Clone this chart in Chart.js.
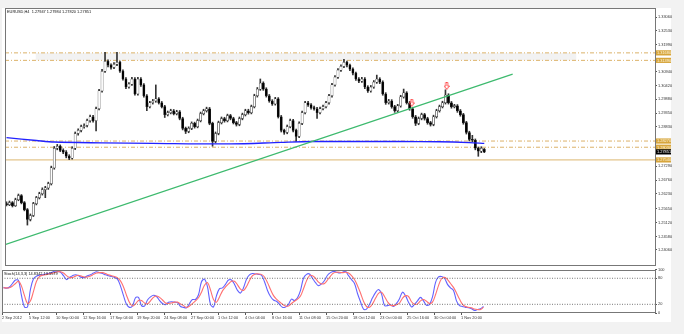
<!DOCTYPE html>
<html><head><meta charset="utf-8">
<script src="https://cdn.jsdelivr.net/npm/chart.js@4.4.1/dist/chart.umd.min.js"></script>
<style>
html,body{margin:0;padding:0;background:#f2f2f2;width:684px;height:334px;overflow:hidden;}
#paper{position:absolute;left:2px;top:8px;width:669px;height:314px;background:#fff;}
#main{position:absolute;left:0;top:0;}
#stoch{position:absolute;left:0;top:262px;}
</style></head><body>
<div id="paper"></div>
<canvas id="main" width="684" height="270"></canvas>
<canvas id="stoch" width="684" height="72"></canvas>
<script>
// ---------- DATA (EURUSD H4 candles) ----------
const opens = [1.2585,1.2581,1.2589,1.2577,1.2600,1.2616,1.2589,1.2562,1.2524,1.2539,
 1.2585,1.2608,1.2623,1.2639,1.2646,1.2662,1.2723,1.2799,1.2807,1.2791,
 1.2784,1.2768,1.2761,1.2799,1.2856,1.2868,1.2883,1.2887,1.2906,1.2921,
 1.2906,1.2952,1.3021,1.3097,1.3135,1.3120,1.3112,1.3124,1.3131,1.3097,
 1.3067,1.3036,1.3047,1.3067,1.3009,1.3067,1.3044,1.3002,1.2960,1.2975,
 1.2982,1.2990,1.2975,1.2960,1.2929,1.2937,1.2944,1.2933,1.2940,1.2914,
 1.2876,1.2864,1.2876,1.2895,1.2883,1.2906,1.2933,1.2944,1.2952,1.2895,
 1.2826,1.2856,1.2898,1.2914,1.2906,1.2925,1.2914,1.2898,1.2891,1.2914,
 1.2929,1.2944,1.2937,1.2960,1.3002,1.3028,1.3051,1.3028,1.3002,1.2982,
 1.2971,1.2990,1.2921,1.2868,1.2860,1.2883,1.2906,1.2868,1.2845,1.2895,
 1.2937,1.2975,1.2967,1.2956,1.2952,1.2937,1.2952,1.2960,1.2975,1.3002,
 1.3044,1.3074,1.3101,1.3116,1.3131,1.3120,1.3105,1.3089,1.3067,1.3059,
 1.3067,1.3036,1.3021,1.3036,1.3055,1.3067,1.3055,1.3009,1.2975,1.2982,
 1.2960,1.2944,1.2963,1.2998,1.3013,1.2975,1.2952,1.2921,1.2895,1.2914,
 1.2929,1.2914,1.2898,1.2891,1.2921,1.2944,1.2960,1.2975,1.3005,1.2975,
 1.2960,1.2963,1.2944,1.2929,1.2898,1.2860,1.2833,1.2830,1.2799,1.2788,
 1.27947];
const highs = [1.2592,1.2595,1.2593,1.2606,1.2622,1.2620,1.2593,1.2566,1.2545,1.2590,
 1.2613,1.2629,1.2646,1.2652,1.2668,1.2730,1.2806,1.2814,1.2812,1.2797,
 1.2790,1.2774,1.2805,1.2862,1.2874,1.2889,1.2894,1.2912,1.2927,1.2926,
 1.2958,1.3027,1.3104,1.3170,1.3141,1.3126,1.3130,1.3170,1.3136,1.3102,
 1.3072,1.3053,1.3073,1.3072,1.3073,1.3072,1.3049,1.3007,1.2981,1.2988,
 1.3044,1.2995,1.2980,1.2965,1.2943,1.2950,1.2949,1.2946,1.2945,1.2919,
 1.2881,1.2882,1.2901,1.2900,1.2912,1.2939,1.2950,1.2958,1.2957,1.2900,
 1.2862,1.2904,1.2920,1.2919,1.2931,1.2930,1.2919,1.2903,1.2920,1.2935,
 1.2950,1.2950,1.2966,1.3008,1.3034,1.3067,1.3056,1.3033,1.3007,1.2987,
 1.2996,1.2995,1.2926,1.2873,1.2889,1.2912,1.2911,1.2873,1.2901,1.2943,
 1.2981,1.2981,1.2972,1.2962,1.2957,1.2958,1.2966,1.2981,1.3008,1.3050,
 1.3080,1.3107,1.3122,1.3143,1.3136,1.3125,1.3110,1.3094,1.3072,1.3073,
 1.3072,1.3041,1.3042,1.3061,1.3082,1.3072,1.3060,1.3014,1.2988,1.2987,
 1.2965,1.2969,1.3004,1.3028,1.3018,1.2980,1.2957,1.2926,1.2920,1.2935,
 1.2934,1.2919,1.2903,1.2927,1.2950,1.2966,1.2981,1.3025,1.3010,1.2980,
 1.2969,1.2968,1.2949,1.2934,1.2903,1.2865,1.2849,1.2835,1.2804,1.2805,
 1.27984];
const lows = [1.2576,1.2577,1.2572,1.2574,1.2596,1.2584,1.2557,1.2502,1.2518,1.2535,
 1.2580,1.2603,1.2618,1.2608,1.2640,1.2657,1.2718,1.2793,1.2786,1.2778,
 1.2762,1.2755,1.2757,1.2794,1.2850,1.2862,1.2877,1.2882,1.2900,1.2900,
 1.2866,1.2947,1.3016,1.3092,1.3114,1.3105,1.3107,1.3118,1.3092,1.3062,
 1.3030,1.3031,1.3042,1.3004,1.3004,1.3038,1.2997,1.2944,1.2955,1.2970,
 1.2977,1.2970,1.2955,1.2918,1.2924,1.2932,1.2928,1.2928,1.2909,1.2870,
 1.2856,1.2859,1.2871,1.2877,1.2878,1.2901,1.2928,1.2939,1.2890,1.2807,
 1.2820,1.2851,1.2893,1.2900,1.2901,1.2909,1.2893,1.2885,1.2886,1.2909,
 1.2924,1.2931,1.2932,1.2955,1.2997,1.3023,1.3023,1.2997,1.2977,1.2965,
 1.2966,1.2916,1.2862,1.2853,1.2855,1.2878,1.2862,1.2826,1.2840,1.2890,
 1.2932,1.2961,1.2950,1.2946,1.2914,1.2932,1.2947,1.2955,1.2970,1.2997,
 1.3039,1.3069,1.3096,1.3111,1.3114,1.3099,1.3083,1.3061,1.3053,1.3054,
 1.3030,1.3015,1.3016,1.3031,1.3050,1.3049,1.3004,1.2969,1.2970,1.2954,
 1.2938,1.2939,1.2958,1.2993,1.2970,1.2946,1.2915,1.2887,1.2890,1.2909,
 1.2908,1.2892,1.2885,1.2886,1.2916,1.2939,1.2955,1.2970,1.2970,1.2954,
 1.2955,1.2938,1.2923,1.2892,1.2854,1.2827,1.2824,1.2793,1.2768,1.2782,
 1.27820];
const closes = [1.2581,1.2589,1.2577,1.2600,1.2616,1.2589,1.2562,1.2524,1.2539,1.2585,
 1.2608,1.2623,1.2639,1.2646,1.2662,1.2723,1.2799,1.2807,1.2791,1.2784,
 1.2768,1.2761,1.2799,1.2856,1.2868,1.2883,1.2887,1.2906,1.2921,1.2906,
 1.2952,1.3021,1.3097,1.3135,1.3120,1.3112,1.3124,1.3131,1.3097,1.3067,
 1.3036,1.3047,1.3067,1.3009,1.3067,1.3044,1.3002,1.2960,1.2975,1.2982,
 1.2990,1.2975,1.2960,1.2929,1.2937,1.2944,1.2933,1.2940,1.2914,1.2876,
 1.2864,1.2876,1.2895,1.2883,1.2906,1.2933,1.2944,1.2952,1.2895,1.2826,
 1.2856,1.2898,1.2914,1.2906,1.2925,1.2914,1.2898,1.2891,1.2914,1.2929,
 1.2944,1.2937,1.2960,1.3002,1.3028,1.3051,1.3028,1.3002,1.2982,1.2971,
 1.2990,1.2921,1.2868,1.2860,1.2883,1.2906,1.2868,1.2845,1.2895,1.2937,
 1.2975,1.2967,1.2956,1.2952,1.2937,1.2952,1.2960,1.2975,1.3002,1.3044,
 1.3074,1.3101,1.3116,1.3131,1.3120,1.3105,1.3089,1.3067,1.3059,1.3067,
 1.3036,1.3021,1.3036,1.3055,1.3067,1.3055,1.3009,1.2975,1.2982,1.2960,
 1.2944,1.2963,1.2998,1.3013,1.2975,1.2952,1.2921,1.2895,1.2914,1.2929,
 1.2914,1.2898,1.2891,1.2921,1.2944,1.2960,1.2975,1.3005,1.2975,1.2960,
 1.2963,1.2944,1.2929,1.2898,1.2860,1.2833,1.2830,1.2799,1.2788,1.2799,
 1.27851];

// Stochastic(14,3,3): main (%K) and signal (%D)
const stochK = [59,57,60,68,76,75,40,14,14,55, 79,85,87,88,90,91,93,96,96,94,
 86,77,82,86,88,86,82,82,86,88, 92,95,93,91,88,86,84,82,78,62,
 40,20,13,16,35,36,17,16,30,37, 41,38,29,22,19,25,26,25,24,15,
 13,12,22,31,31,42,72,78,60,20, 14,40,56,58,66,76,76,66,52,46,
 58,78,88,91,90,89,87,72,52,38, 30,27,20,13,14,20,32,29,35,52,
 80,89,90,80,70,63,67,75,87,93, 96,94,92,94,96,86,77,68,45,26,
 9,9,20,35,47,54,44,17,17,19, 15,22,33,48,40,25,14,20,28,36,
 28,18,20,37,70,83,84,80,66,58, 52,28,17,15,13,12,10,6,8,10, 14.8342];
const stochD = [58,58,58,62,68,73,62,40,22,28, 50,73,84,87,88,90,91,93,95,95,
 92,86,82,82,85,87,85,83,83,85, 89,92,93,93,91,88,86,84,81,74,
 60,41,24,16,21,29,29,23,21,28, 36,39,36,30,23,22,23,25,25,21,
 17,13,16,22,28,35,48,64,70,53, 31,25,37,51,60,67,73,73,65,55,
 52,61,75,86,90,90,89,83,70,54, 40,32,26,20,16,16,22,27,32,39,
 56,74,86,86,80,71,67,68,76,85, 92,94,94,93,94,92,86,77,63,46,
 27,15,13,21,34,45,48,38,26,18, 17,19,23,34,40,38,26,20,21,28,
 31,27,22,25,42,63,79,82,77,68, 59,46,32,20,15,13,12,9,8,8, 13.5579];

// Moving average (blue) sampled at candle indices
const maIdx = [0,10,16,32,49,75,92,102,132,145,155,160];
const maVal = [1.2840,1.2829,1.2823,1.2820,1.2818,1.2816,1.2822,1.2825,1.2825,1.2824,1.2821,1.2818];

// Trend line (green): two anchor points (bar index, price)
const trendIdx = [-0.5,169.5];
const trendVal = [1.2426,1.3086];

// Fractal arrows (red)
const arrowIdx = [135.7,147.4];
const arrowVal = [1.2975,1.3040];

// Horizontal levels
const dashLevels = [1.3168,1.3139,1.2827,1.2803];
const solidLevels = [1.2754];
const zone = {fromIdx:9.8, toIdx:190.8, lo:1.3139, hi:1.3168};
const lastPrice = 1.27851;

// Tick labels
const priceTicks = [1.33060,1.32530,1.31990,1.30940,1.30420,1.29880,1.29350,1.28830,1.27290,1.26760,1.26230,1.25650,1.25120,1.24580,1.24060];
const stochTicks = [100,80,20,0];
const stochLevels = [80,20];
const dateLabels = ['2 Sep 2012','5 Sep 12:00','10 Sep 00:00','12 Sep 16:00','17 Sep 04:00','19 Sep 20:00','24 Sep 08:00','27 Sep 00:00','1 Oct 12:00','4 Oct 04:00','8 Oct 16:00','11 Oct 08:00','15 Oct 20:00','18 Oct 12:00','23 Oct 00:00','25 Oct 16:00','30 Oct 04:00','1 Nov 20:00'];
const BARS_PER_LABEL = 9;
const titleMain = 'EURUSD,H4  1.27947 1.27984 1.27820 1.27851';
const titleStoch = 'Stoch(14,3,3) 14.8342 13.5579';

// ---------- RENDER ----------
const X_MIN = -0.5, X_MAX = -0.5 + 653/3;
const FAM = "'Liberation Sans', Arial, sans-serif";
const FONT = {family: FAM, size: 3.9};
const GOLD = '#d7a53c';
const LVL = 'rgba(216,170,90,0.9)';

function arrowImg(){
  const c=document.createElement('canvas'); c.width=6; c.height=8;
  const g=c.getContext('2d'); g.strokeStyle='#ff4a4a'; g.lineWidth=1;
  g.beginPath(); g.moveTo(2,0.5); g.lineTo(4,0.5); g.lineTo(4,4); g.lineTo(5.5,4);
  g.lineTo(3,7.5); g.lineTo(0.5,4); g.lineTo(2,4); g.closePath(); g.stroke();
  return c;
}
const lineAcross = v => [{x:X_MIN,y:v},{x:X_MAX,y:v}];

const mainPlugin = {
  id:'mainDeco',
  beforeDatasetsDraw(chart){
    const {ctx, scales:{x,y}} = chart;
    ctx.save();
    ctx.fillStyle='rgba(0,0,0,0.05)';
    const x0=x.getPixelForValue(zone.fromIdx), x1=x.getPixelForValue(zone.toIdx);
    const y0=y.getPixelForValue(zone.hi), y1=y.getPixelForValue(zone.lo);
    ctx.fillRect(x0,y0,x1-x0,y1-y0);
    ctx.restore();
  },
  afterDraw(chart){
    const {ctx, chartArea:a, scales:{y}} = chart;
    ctx.save();
    ctx.strokeStyle='#777'; ctx.lineWidth=1;
    ctx.strokeRect(a.left+0.5,a.top+0.5,a.right-a.left,a.bottom-a.top);
    ctx.font='3.9px '+FAM; ctx.fillStyle='#111'; ctx.textBaseline='middle';
    ctx.fillText(titleMain, a.left+2, a.top+4);
    const box=(v,bg,fg)=>{
      const py=y.getPixelForValue(v);
      ctx.fillStyle=bg; ctx.fillRect(a.right+1,py-2.6,15,5.2);
      ctx.fillStyle=fg; ctx.textAlign='left'; ctx.fillText(v.toFixed(5),a.right+2,py+0.2);
    };
    dashLevels.concat(solidLevels).forEach(v=>box(v,GOLD,'#fff8e0'));
    box(lastPrice,'#000','#fff');
    ctx.restore();
  }
};

const bodyColors = closes.map((c,i)=> c>=opens[i] ? '#ffffff' : '#000000');
const mainDatasets = [
  ...dashLevels.map(v=>({type:'line',data:lineAcross(v),borderColor:LVL,borderWidth:1,borderDash:[4,2,1,2],pointRadius:0,order:10})),
  ...solidLevels.map(v=>({type:'line',data:lineAcross(v),borderColor:'#dcb670',borderWidth:1,pointRadius:0,order:10})),
  {type:'bar',data:closes.map((_,i)=>({x:i,y:[lows[i],highs[i]]})),backgroundColor:'#333',barThickness:1,grouped:false,borderSkipped:false,order:6},
  {type:'bar',data:closes.map((_,i)=>({x:i,y:[opens[i],closes[i]]})),backgroundColor:bodyColors,borderColor:'#222',borderWidth:0.5,borderSkipped:false,barThickness:2.2,minBarLength:1,grouped:false,order:5},
  {type:'line',data:maIdx.map((k,i)=>({x:k,y:maVal[i]})),borderColor:'#2222ff',borderWidth:1.4,pointRadius:0,tension:0.3,order:4},
  {type:'line',data:trendIdx.map((k,i)=>({x:k,y:trendVal[i]})),borderColor:'#3dba6e',borderWidth:1.2,pointRadius:0,order:3},
  {type:'line',data:arrowIdx.map((k,i)=>({x:k,y:arrowVal[i]})),showLine:false,pointStyle:arrowImg(),pointRadius:4,order:1}
];

new Chart(document.getElementById('main'),{
  type:'bar',
  data:{datasets:mainDatasets},
  options:{
    responsive:false, animation:false, events:[],
    layout:{padding:{left:2,right:0,top:8,bottom:2}},
    plugins:{legend:{display:false},tooltip:{enabled:false}},
    scales:{
      x:{type:'linear',min:X_MIN,max:X_MAX,display:false,offset:false},
      y:{type:'linear',position:'right',min:1.23476,max:1.33415,
         afterFit:s=>{s.width=29;},
         afterBuildTicks:s=>{s.ticks=priceTicks.map(v=>({value:v}));},
         ticks:{font:FONT,color:'#333',padding:1,autoSkip:false,callback:v=>Number(v).toFixed(5)},
         grid:{drawOnChartArea:false,drawTicks:true,tickLength:2,color:'#555'},
         border:{display:true,color:'#666'}}
    }
  },
  plugins:[mainPlugin]
});

const stochPlugin = {
  id:'stochDeco',
  afterDraw(chart){
    const {ctx, chartArea:a} = chart;
    ctx.save();
    ctx.strokeStyle='#777'; ctx.lineWidth=1;
    ctx.strokeRect(a.left+0.5,8.5,a.right-a.left,42);
    ctx.font='3.9px '+FAM; ctx.fillStyle='#111'; ctx.textBaseline='middle';
    ctx.fillText(titleStoch, a.left+2, 12);
    ctx.restore();
  }
};

new Chart(document.getElementById('stoch'),{
  type:'line',
  data:{datasets:[
    ...stochLevels.map(v=>({data:lineAcross(v),borderColor:'#555',borderWidth:0.8,borderDash:[1,1.5],pointRadius:0})),
    {data:stochD.map((v,i)=>({x:i,y:v})),borderColor:'#ff7070',borderWidth:1.1,pointRadius:0,tension:0.35},
    {data:stochK.map((v,i)=>({x:i,y:v})),borderColor:'#6262ff',borderWidth:1.1,pointRadius:0,tension:0.35}
  ]},
  options:{
    responsive:false, animation:false, events:[],
    layout:{padding:{left:2,right:0,top:7.6,bottom:9}},
    plugins:{legend:{display:false},tooltip:{enabled:false}},
    scales:{
      x:{type:'linear',min:X_MIN,max:X_MAX,
         afterFit:s=>{s.height=12;},
         afterBuildTicks:s=>{s.ticks=dateLabels.map((_,i)=>({value:i*BARS_PER_LABEL-0.5}));},
         ticks:{font:FONT,color:'#333',align:'start',maxRotation:0,autoSkip:false,padding:1,callback:(v,i)=>dateLabels[i]},
         grid:{drawOnChartArea:false,drawTicks:true,tickLength:2,color:'#555'},
         border:{display:false}},
      y:{type:'linear',position:'right',min:0,max:100,
         afterFit:s=>{s.width=29;},
         afterBuildTicks:s=>{s.ticks=stochTicks.map(v=>({value:v}));},
         ticks:{font:FONT,color:'#333',padding:1,autoSkip:false,callback:v=>String(v)},
         grid:{drawOnChartArea:false,drawTicks:true,tickLength:2,color:'#555'},
         border:{display:true,color:'#666'}}
    }
  },
  plugins:[stochPlugin]
});
</script>
</body></html>
